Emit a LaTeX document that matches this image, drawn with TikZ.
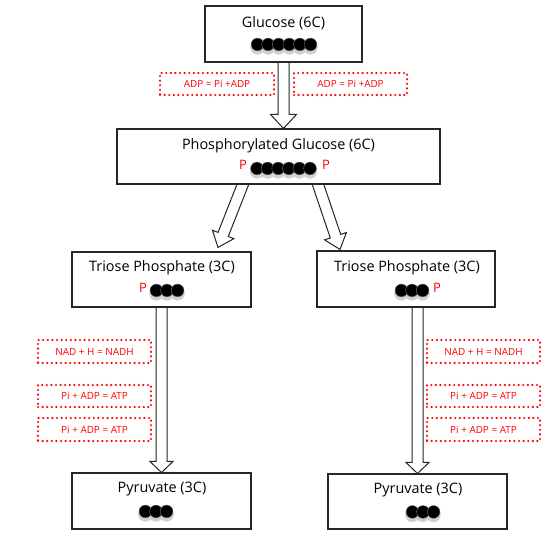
\documentclass[tikz,border=0pt]{standalone}
\usepackage{fontspec}
\setmainfont{Open Sans}
\usetikzlibrary{calc,backgrounds}
\tikzset{
 box/.style={draw=black!85, line width=1.1pt, fill=white, inner sep=0pt},
 title/.style={font=\fontsize{14.4}{16}\selectfont, inner sep=0pt},
 rbox/.style={draw=red, line width=2.4pt, dash pattern=on 0pt off 4.6pt, line cap=round, inner sep=0pt, minimum height=22pt, text=red, font=\fontsize{9.9}{11}\selectfont},
 ptext/.style={text=red, font=\fontsize{13}{14}\selectfont, inner sep=0pt},
 barrow/.style={draw=black!85, line width=1pt, fill=white, line join=miter},
}
\newcommand\blockarrow[5]{%
 \coordinate (ba-h) at ($(#2)!#5!(#1)$);
 \draw[barrow] ($(#1)!#3!90:(#2)$) -- ($(ba-h)!#3!90:(#2)$) -- ($(ba-h)!#4!90:(#2)$) -- (#2) -- ($(ba-h)!#4!-90:(#2)$) -- ($(ba-h)!#3!-90:(#2)$) -- ($(#1)!#3!-90:(#2)$) -- cycle;}
\newcommand\dotrow[2]{%
 \foreach \i in {1,...,#2}{\fill[black!18] ($(#1)+({(\i-(#2+1)/2)*10.6},3)$) circle (7.2pt);}
 \foreach \i in {1,...,#2}{\filldraw[fill=black, draw=black!55, line width=0.4pt] ($(#1)+({(\i-(#2+1)/2)*10.6},0)$) circle (6.4pt);}}
\begin{document}
\begin{tikzpicture}[x=1pt,y=-1pt]
\useasboundingbox (0,0) rectangle (556,546);
% boxes
\node[box, minimum width=157pt, minimum height=56pt] (gluc) at (283.5,34) {};
\node[box, minimum width=323pt, minimum height=55pt] (phos) at (278.5,156.5) {};
\node[box, minimum width=179pt, minimum height=55pt] (triL) at (161.5,279.5) {};
\node[box, minimum width=178pt, minimum height=56pt] (triR) at (406,279) {};
\node[box, minimum width=179pt, minimum height=56pt] (pyrL) at (161.5,501) {};
\node[box, minimum width=179pt, minimum height=55pt] (pyrR) at (417.5,501.5) {};
% titles
\node[title] (glucT) at ($(gluc.north)+(0,18)$) {Glucose (6C)};
\node[title] (phosT) at ($(phos.north)+(0,17)$) {Phosphorylated Glucose (6C)};
\node[title] (triLT) at ($(triL.north)+(0.5,16)$) {Triose Phosphate (3C)};
\node[title] (triRT) at ($(triR.north)+(1,17)$) {Triose Phosphate (3C)};
\node[title] (pyrLT) at ($(pyrL.north)+(0.5,17)$) {Pyruvate (3C)};
\node[title] (pyrRT) at ($(pyrR.north)+(0.5,16.5)$) {Pyruvate (3C)};
% dots
\coordinate (gd) at ($(gluc.north)+(0.5,39)$); \dotrow{gd}{6}
\coordinate (pd) at ($(phos.north)+(5,40)$); \dotrow{pd}{6}
\coordinate (tld) at ($(triL.north)+(5.5,39)$); \dotrow{tld}{3}
\coordinate (trd) at ($(triR.north)+(6,40)$); \dotrow{trd}{3}
\coordinate (pld) at ($(pyrL.north)+(-5.5,39)$); \dotrow{pld}{3}
\coordinate (prd) at ($(pyrR.north)+(5.5,38.5)$); \dotrow{prd}{3}
% P labels
\node[ptext] (pP1) at (243,165) {P};
\node[ptext] (pP2) at (326,165) {P};
\node[ptext] (tP1) at (143,288) {P};
\node[ptext] (tP2) at (437,288) {P};
% red dotted boxes
\node[rbox, minimum width=114pt] (adpL) at (217,84) {ADP = Pi +ADP};
\node[rbox, minimum width=113pt] (adpR) at (350.5,84) {ADP = Pi +ADP};
\node[rbox, minimum width=113pt, minimum height=23pt] (nadL) at (94.5,351.5) {NAD + H = NADH};
\node[rbox, minimum width=113pt] (atpL1) at (94.5,396) {Pi + ADP = ATP};
\node[rbox, minimum width=113pt, minimum height=23pt] (atpL2) at (94.5,429.5) {Pi + ADP = ATP};
\node[rbox, minimum width=113pt, minimum height=23pt] (nadR) at (483.5,351.5) {NAD + H = NADH};
\node[rbox, minimum width=113pt] (atpR1) at (483.5,396) {Pi + ADP = ATP};
\node[rbox, minimum width=113pt, minimum height=23pt] (atpR2) at (483.5,429.5) {Pi + ADP = ATP};
% arrows
\begin{scope}[on background layer]
\coordinate (a1s) at ($(gluc.south)+(0,-2)$);
\coordinate (a1e) at (gluc.south |- phos.north);
\blockarrow{a1s}{a1e}{5.5pt}{13pt}{14pt}
\coordinate (a2s) at ($(phos.south)+(-34.5,-3)$);
\coordinate (a2e) at ($(triL.north)+(56.5,-4)$);
\blockarrow{a2s}{a2e}{5.5pt}{11.5pt}{14pt}
\coordinate (a3s) at ($(phos.south)+(38.5,-3)$);
\coordinate (a3e) at ($(triR.north)+(-66,-1)$);
\blockarrow{a3s}{a3e}{5.5pt}{11.5pt}{14pt}
\coordinate (a4s) at ($(triL.south)+(0,-2)$);
\coordinate (a4e) at (pyrL.north);
\blockarrow{a4s}{a4e}{5.5pt}{11.5pt}{11pt}
\coordinate (a5s) at ($(triR.south -| pyrR.north)+(0,-2)$);
\coordinate (a5e) at (pyrR.north);
\blockarrow{a5s}{a5e}{5.5pt}{11.5pt}{11pt}
\end{scope}
\end{tikzpicture}
\end{document}
